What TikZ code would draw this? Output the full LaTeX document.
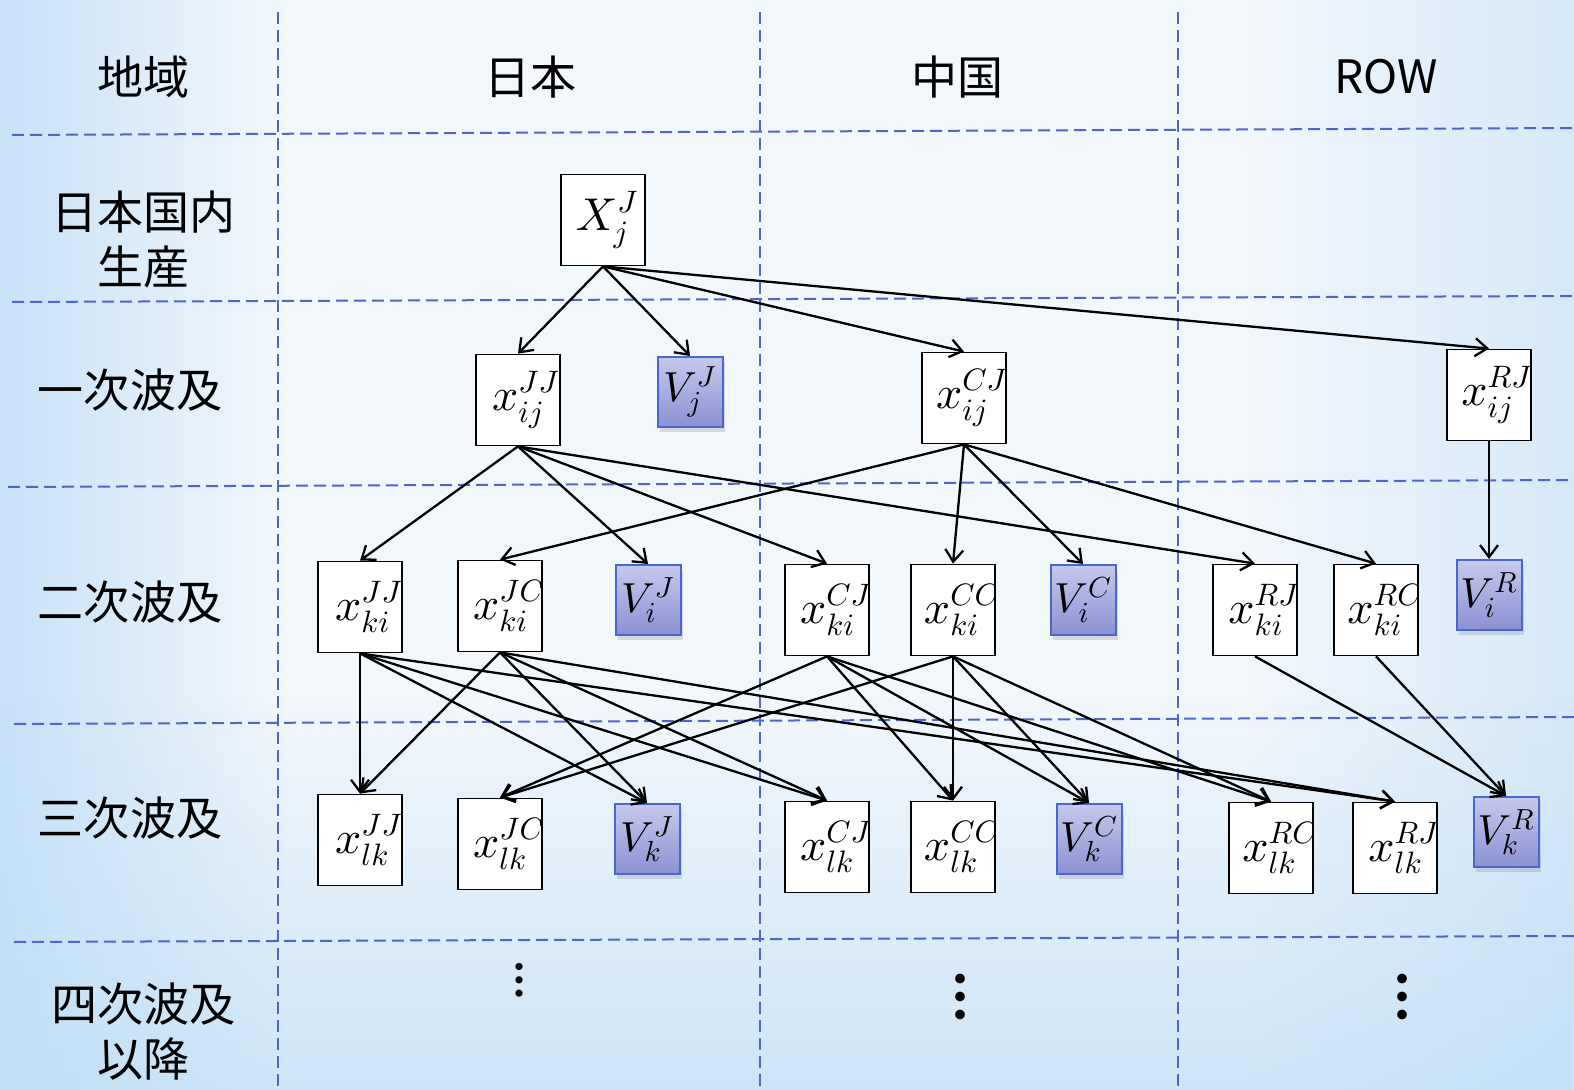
\documentclass[tikz,border=0pt]{standalone}
\usepackage{fontspec}
\newfontfamily\jp{Noto Sans CJK JP}
\DeclareFontShape{OML}{cmm}{m}{it}{<-> cmmi10}{}
\DeclareMathSizes{23}{23}{15.5}{11}
\DeclareMathSizes{21}{21}{14.5}{10}
\usetikzlibrary{arrows.meta,shadows,fadings}
\definecolor{gridc}{RGB}{78,102,204}
\definecolor{vtop}{RGB}{198,201,236}
\definecolor{vbot}{RGB}{138,145,210}
\definecolor{vedge}{RGB}{72,104,208}
\definecolor{bgl}{RGB}{200,226,248}
\definecolor{bgm}{RGB}{242,247,252}
\definecolor{bgr}{RGB}{214,233,249}
\definecolor{bgb}{RGB}{190,222,246}
\tikzset{
 gridline/.style={draw=gridc, line width=1pt, dash pattern=on 6pt off 3pt},
 hdr/.style={font=\jp\fontsize{23}{27.5}\selectfont, align=center, inner sep=0},
 xbox/.style={draw=black, line width=0.9pt, fill=white, minimum width=42pt, minimum height=45.5pt, inner sep=0},
 xlbl/.style={inner sep=0, font=\fontsize{23}{27}\selectfont},
 vbox/.style={draw=vedge, line width=1pt, top color=vtop, bottom color=vbot, minimum width=32.5pt, minimum height=35pt, inner sep=0, font=\fontsize{21}{25}\selectfont, drop shadow={opacity=0.25, shadow xshift=1pt, shadow yshift=-2.5pt}},
 arr/.style={-{Straight Barb[length=6pt,width=9pt]}, line width=1.15pt, black},
 dotsn/.style={inner sep=0, font=\jp\bfseries\fontsize{#1}{#1}\selectfont},
}
\newcommand\xn[4]{%
  \node[xbox] (#1) at (#2) {};
  \begin{scope}
    \clip (#1.south west) rectangle (#1.north east);
    \node[xlbl] (#1l) at ([xshift=#3]#1.center) {$#4$};
  \end{scope}}
\begin{document}
\begin{tikzpicture}[x=0.5pt,y=-0.5pt]
\useasboundingbox (0,0) rectangle (1574,1090);
% background
\fill[bgm] (0,0) rectangle (1574,1090);
\fill[bgl, path fading=east] (0,0) rectangle (280,1090);
\fill[bgr, path fading=west] (1250,0) rectangle (1574,1090);
\fill[bgb, path fading=north, fill opacity=0.7] (0,700) rectangle (1574,1090);
% grid
\draw[gridline] (12,135) -- (1574,128);
\draw[gridline] (12,302) -- (1574,296);
\draw[gridline] (8,487) -- (1574,480);
\draw[gridline] (14,724) -- (1574,717);
\draw[gridline] (14,942) -- (1574,936);
\draw[gridline] (278,12) -- (278,1090);
\draw[gridline] (760,12) -- (760,1090);
\draw[gridline] (1178,12) -- (1178,1090);
% headers
\node[hdr] (hArea) at (143,77) {地域};
\node[hdr] (hJP) at (530,77) {日本};
\node[hdr] (hCN) at (957,77) {中国};
\node[hdr] (hROW) at (1386,77) {ROW};
\node[hdr] (r0) at (143,240) {日本国内\\生産};
\node[hdr] (r1) at (130,390) {一次波及};
\node[hdr] (r2) at (130,602) {二次波及};
\node[hdr] (r3) at (130,818) {三次波及};
\node[hdr] (r4) at (143,1032) {四次波及\\以降};
% dots
\node[dotsn=20] (d1) at (519,980) {︙};
\node[dotsn=27] (d2) at (960,997) {︙};
\node[dotsn=27] (d3) at (1402,997) {︙};
% row 1
\xn{X}{603,220}{2pt}{X^{J}_{j}}
% row 2
\xn{aJJ}{518,400}{4pt}{x^{JJ}_{ij}}
\node[vbox] (aV) at (690,392) {$V^{J}_{j}$};
\xn{aCJ}{964,398}{4pt}{x^{CJ}_{ij}}
\xn{aRJ}{1489,395}{4pt}{x^{RJ}_{ij}}
% row 3
\xn{bJJ}{360,607}{4.5pt}{x^{JJ}_{ki}}
\xn{bJC}{500,606}{4.5pt}{x^{JC}_{ki}}
\node[vbox] (bVJ) at (648,600) {$V^{J}_{i}$};
\xn{bCJ}{827,610}{4.5pt}{x^{CJ}_{ki}}
\xn{bCC}{953,610}{4.5pt}{x^{CC}_{ki}}
\node[vbox] (bVC) at (1083,600) {$V^{C}_{i}$};
\xn{bRJ}{1255,610}{4.5pt}{x^{RJ}_{ki}}
\xn{bRC}{1376,610}{4.5pt}{x^{RC}_{ki}}
\node[vbox] (bVR) at (1489,595) {$V^{R}_{i}$};
% row 4
\xn{cJJ}{360,840}{4.5pt}{x^{JJ}_{lk}}
\xn{cJC}{500,844}{4.5pt}{x^{JC}_{lk}}
\node[vbox] (cVJ) at (647,839) {$V^{J}_{k}$};
\xn{cCJ}{827,847}{4.5pt}{x^{CJ}_{lk}}
\xn{cCC}{953,847}{4.5pt}{x^{CC}_{lk}}
\node[vbox] (cVC) at (1089,839) {$V^{C}_{k}$};
\xn{cRC}{1271,848}{4.5pt}{x^{RC}_{lk}}
\xn{cRJ}{1395,848}{4.5pt}{x^{RJ}_{lk}}
\node[vbox] (cVR) at (1506,832) {$V^{R}_{k}$};
% edges row1 -> row2
\foreach \t in {aJJ,aV,aCJ,aRJ} \draw[arr] (X.south) -- (\t.north);
% row2 -> row3
\foreach \t in {bJJ,bVJ,bCJ,bRJ} \draw[arr] (aJJ.south) -- (\t.north);
\foreach \t in {bJC,bCC,bVC,bRC} \draw[arr] (aCJ.south) -- (\t.north);
\draw[arr] (aRJ.south) -- (bVR.north);
% row3 -> row4
\foreach \s in {bJJ,bJC}{\foreach \t in {cJJ,cVJ,cCJ,cRJ} \draw[arr] (\s.south) -- (\t.north);}
\foreach \s in {bCJ,bCC}{\foreach \t in {cJC,cCC,cVC,cRC} \draw[arr] (\s.south) -- (\t.north);}
\draw[arr] (bRJ.south) -- (cVR.north);
\draw[arr] (bRC.south) -- (cVR.north);
\end{tikzpicture}
\end{document}
